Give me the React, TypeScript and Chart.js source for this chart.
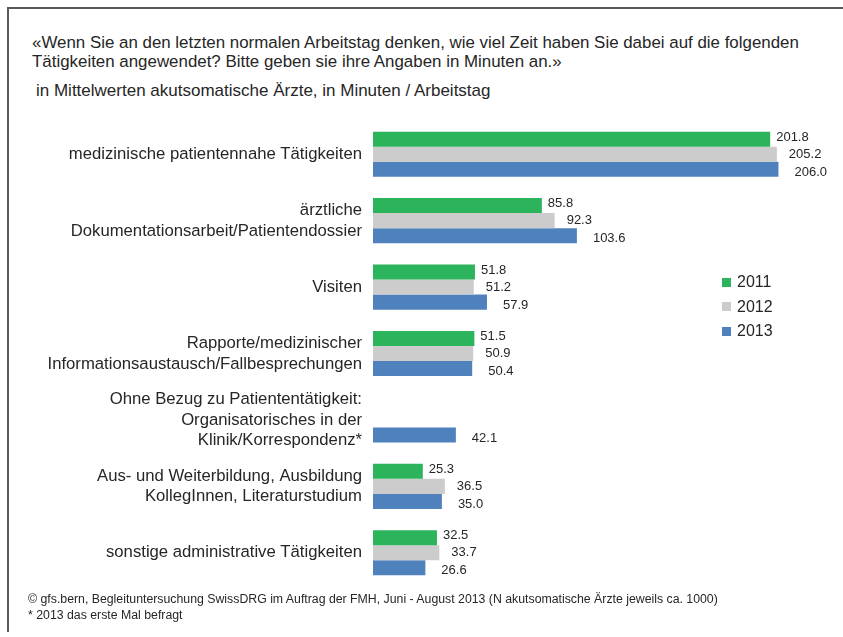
import React, { useEffect, useRef } from 'react';
import { Chart, registerables } from 'chart.js';

Chart.register(...registerables);

const categories: string[][] = [
  ['medizinische patientennahe Tätigkeiten'],
  ['ärztliche', 'Dokumentationsarbeit/Patientendossier'],
  ['Visiten'],
  ['Rapporte/medizinischer', 'Informationsaustausch/Fallbesprechungen'],
  ['Ohne Bezug zu Patiententätigkeit:', 'Organisatorisches in der', 'Klinik/Korrespondenz*'],
  ['Aus- und Weiterbildung, Ausbildung', 'KollegInnen, Literaturstudium'],
  ['sonstige administrative Tätigkeiten'],
];

const seriesNames = ['2011', '2012', '2013'];
const values2011: (number | null)[] = [201.8, 85.8, 51.8, 51.5, null, 25.3, 32.5];
const values2012: (number | null)[] = [205.2, 92.3, 51.2, 50.9, null, 36.5, 33.7];
const values2013: (number | null)[] = [206.0, 103.6, 57.9, 50.4, 42.1, 35.0, 26.6];

const seriesColors = ['#2BB45C', '#CCCCCC', '#4F81BD'];
const labelDx = [6, 12, 16];
const labelDy = [-2, 0, 3];

const textColor = '#262626';
const FONT = '"Liberation Sans", Arial, sans-serif';

const valueLabels = {
  id: 'valueLabels',
  afterDatasetsDraw(chart: any) {
    const ctx = chart.ctx;
    ctx.save();
    ctx.font = `13px ${FONT}`;
    ctx.fillStyle = textColor;
    ctx.textBaseline = 'middle';
    ctx.textAlign = 'left';
    chart.data.datasets.forEach((ds: any, i: number) => {
      const meta = chart.getDatasetMeta(i);
      meta.data.forEach((bar: any, j: number) => {
        const v = ds.data[j];
        if (v == null) return;
        const p = bar.getProps(['x', 'y'], true);
        ctx.fillText(v.toFixed(1), p.x + labelDx[i], p.y + labelDy[i]);
      });
    });
    ctx.restore();
  },
};

export default function App() {
  const ref = useRef<HTMLCanvasElement | null>(null);

  useEffect(() => {
    if (!ref.current) return;
    const allSeries = [values2011, values2012, values2013];
    const chart = new Chart(ref.current, {
      type: 'bar',
      data: {
        labels: categories,
        datasets: allSeries.map((d, i) => ({
          label: seriesNames[i],
          data: d,
          backgroundColor: seriesColors[i],
          borderWidth: 0,
          barPercentage: 1,
          categoryPercentage: 0.68,
        })),
      },
      options: {
        indexAxis: 'y',
        responsive: false,
        animation: false,
        layout: { padding: { left: 0, top: 121, bottom: 51, right: 37 } },
        plugins: {
          legend: { display: false },
          tooltip: { enabled: false },
          title: { display: false },
        },
        scales: {
          x: {
            display: false,
            min: 0,
            max: 220,
          },
          y: {
            grid: { display: false, drawTicks: false },
            border: { display: false },
            ticks: {
              color: textColor,
              padding: 11,
              font: { family: FONT, size: 16.7, lineHeight: 1.25 },
            },
            afterFit: (scale: any) => {
              scale.width = 373;
            },
          },
        },
      },
      plugins: [valueLabels],
    });
    return () => chart.destroy();
  }, []);

  const abs = (extra: React.CSSProperties): React.CSSProperties => ({
    position: 'absolute',
    fontFamily: FONT,
    color: textColor,
    whiteSpace: 'nowrap',
    ...extra,
  });

  return (
    <div style={{ position: 'absolute', left: 0, top: 0, width: 843, height: 637, background: '#fff', overflow: 'hidden' }}>
      <div style={{ position: 'absolute', left: 7, top: 7, width: 850, height: 623, borderTop: '2px solid #5a5a5a', borderLeft: '2px solid #5a5a5a' }} />
      <div style={abs({ left: 32, top: 33, fontSize: 16.9, lineHeight: '19px' })}>
        «Wenn Sie an den letzten normalen Arbeitstag denken, wie viel Zeit haben Sie dabei auf die folgenden
        <br />
        Tätigkeiten angewendet? Bitte geben sie ihre Angaben in Minuten an.»
      </div>
      <div style={abs({ left: 36, top: 81, fontSize: 17, lineHeight: '20px' })}>
        in Mittelwerten akutsomatische Ärzte, in Minuten / Arbeitstag
      </div>
      <canvas ref={ref} width={843} height={637} style={{ position: 'absolute', left: 0, top: 0 }} />
      {seriesNames.map((n, i) => (
        <div key={n} style={abs({ left: 722, top: 272 + i * 24.5, fontSize: 16, lineHeight: '20px', display: 'flex', alignItems: 'center' })}>
          <span style={{ display: 'inline-block', width: 9, height: 9, background: seriesColors[i], marginRight: 6 }} />
          {n}
        </div>
      ))}
      <div style={abs({ left: 28, top: 591, fontSize: 12.3, lineHeight: '16px', fontFamily: '"Liberation Sans Narrow", "Arial Narrow", ' + FONT })}>
        © gfs.bern, Begleituntersuchung SwissDRG im Auftrag der FMH, Juni - August 2013 (N akutsomatische Ärzte jeweils ca. 1000)
        <br />* 2013 das erste Mal befragt
      </div>
    </div>
  );
}
